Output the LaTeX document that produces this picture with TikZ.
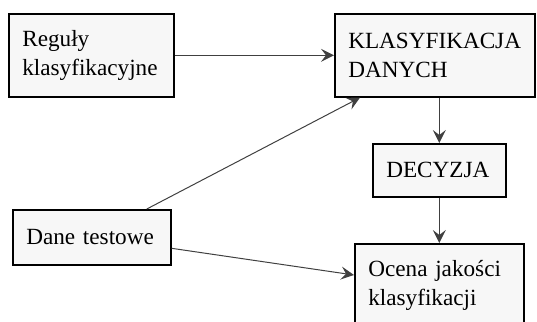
\documentclass[tikz,border=0pt]{standalone}
\usepackage{fontspec}
\setmainfont{Liberation Serif}
\usetikzlibrary{arrows.meta}
\hyphenpenalty=10000
\tikzset{
  blok/.style={draw=black, line width=1.6pt, fill=black!3, anchor=north west,
    inner xsep=13.5pt, align=left, minimum height=#1,
    font=\fontsize{23.2}{29}\selectfont},
  blok/.default=83pt,
  strz/.style={draw=black!75, line width=1pt,
    -{Stealth[length=13pt,width=13pt,inset=5pt]}}
}
\begin{document}
\begin{tikzpicture}[x=1pt,y=-1pt]
  \clip (0,0) rectangle (537,321);
  \useasboundingbox (0,0) rectangle (537,321);

  % Bloki
  \node[blok, text width=138pt] (regul) at (8,13) {Reguły\\klasyfikacyjne};
  \node[blok, text width=173pt] (klas) at (334,13) {KLASYFIKACJA\\DANYCH};
  \node[blok=53pt, text width=106pt] (decyzja) at (372,143) {DECYZJA};
  \node[blok=55pt, text width=131pt] (dane) at (12,209) {Dane testowe};
  \node[blok, text width=142pt] (ocena) at (354,243) {Ocena jakości\\klasyfikacji};

  % Strzałki
  \draw[strz] (regul.east) -- (regul.east -| klas.west);
  \draw[strz] ([xshift=55pt]dane.north) -- ([xshift=26pt]klas.south west);
  \draw[strz] (decyzja.north |- klas.south) -- (decyzja.north);
  \draw[strz] (decyzja.south) -- (decyzja.south |- ocena.north);
  \draw[strz] ([yshift=-11pt]dane.east) -- ([yshift=-32pt]ocena.north west);
\end{tikzpicture}
\end{document}
